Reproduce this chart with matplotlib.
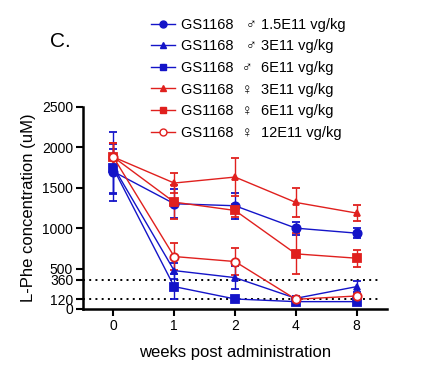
import matplotlib
matplotlib.use("Agg")
import matplotlib.pyplot as plt
from matplotlib.lines import Line2D

plt.rcParams['font.family'] = ['Liberation Sans', 'DejaVu Sans']

weeks = ["0", "1", "2", "4", "8"]
labels = ["GS1168   \u2642 1.5E11 vg/kg", "GS1168   \u2642 3E11 vg/kg", "GS1168  \u2642  6E11 vg/kg",
          "GS1168  \u2640  3E11 vg/kg", "GS1168  \u2640  6E11 vg/kg", "GS1168  \u2640  12E11 vg/kg"]
m_circle = [1700, 1302, 1277, 1000, 938]
m_circle_err = [280, 180, 160, 80, 65]
m_tri = [1760, 475, 388, 132, 277]
m_tri_err = [430, 100, 145, 30, 65]
m_sq = [1740, 277, 124, 91, 91]
m_sq_err = [300, 155, 30, 20, 15]
f_tri = [1880, 1558, 1632, 1318, 1186]
f_tri_err = [170, 125, 240, 180, 95]
f_sq = [1880, 1322, 1219, 682, 628]
f_sq_err = [170, 210, 80, 255, 105]
f_circ = [1880, 649, 587, 120, 161]
f_circ_err = [170, 165, 165, 20, 25]
ref_lines = [360, 120]
yticks = [0, 120, 360, 500, 1000, 1500, 2000, 2500]

blue = "#1414c8"
red = "#e0201e"

fig = plt.figure(figsize=(4.34, 3.75), dpi=100)
ax = fig.add_axes([0.191, 0.176, 0.701, 0.539])
x = list(range(len(weeks)))

series = [
    (m_circle, m_circle_err, blue, 'o', blue),
    (m_tri, m_tri_err, blue, '^', blue),
    (m_sq, m_sq_err, blue, 's', blue),
    (f_tri, f_tri_err, red, '^', red),
    (f_sq, f_sq_err, red, 's', red),
    (f_circ, f_circ_err, red, 'o', 'white'),
]
handles = []
for (vals, err, c, mk, fc), lab in zip(series, labels):
    ax.errorbar(x, vals, yerr=err, color=c, marker=mk, markersize=6 if mk != '^' else 5,
                markerfacecolor=fc, markeredgecolor=c, markeredgewidth=1.3,
                linewidth=1.0, elinewidth=1.0, capsize=3, capthick=1.0, zorder=3)
    handles.append(Line2D([0], [0], color=c, marker=mk, markerfacecolor=fc,
                          markeredgecolor=c, markersize=5, linewidth=1.0, label=lab))

for r in ref_lines:
    ax.plot([-0.5, 4.4], [r, r], color='black', linestyle=(0, (1, 2.2)), linewidth=1.4, zorder=2)

ax.set_xlim(-0.5, 4.5)
ax.set_ylim(0, 2500)
ax.set_xticks(x)
ax.set_xticklabels(weeks, fontsize=10)
ax.set_yticks(yticks)
ax.set_yticklabels([str(t) for t in yticks], fontsize=10)
ax.tick_params(axis='both', length=5, width=1.5, pad=2)
for s in ['top', 'right']:
    ax.spines[s].set_visible(False)
for s in ['left', 'bottom']:
    ax.spines[s].set_linewidth(1.8)
ax.set_ylabel("L-Phe concentration (uM)", fontsize=12, labelpad=4)
ax.set_xlabel("weeks post administration", fontsize=12, labelpad=9)

fig.legend(handles=handles, loc='upper left', bbox_to_anchor=(0.335, 0.968), frameon=False,
           fontsize=10.5, handlelength=1.6, labelspacing=0.52, handletextpad=0.45, borderaxespad=0)
fig.text(0.115, 0.875, "C.", fontsize=15)

fig.savefig("out.png", dpi=100)
